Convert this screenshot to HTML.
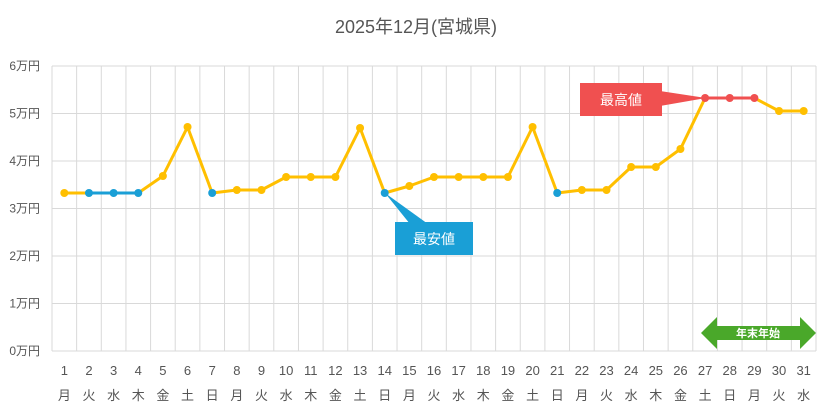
<!DOCTYPE html>
<html><head><meta charset="utf-8"><style>
body{margin:0;background:#fff;width:832px;height:413px;overflow:hidden}
</style></head><body>
<svg width="832" height="413" xmlns="http://www.w3.org/2000/svg" font-family="Liberation Sans, Noto Sans CJK JP, sans-serif">
<rect width="832" height="413" fill="#fff"/>
<text x="416" y="33" text-anchor="middle" font-size="18" fill="#555">2025年12月(宮城県)</text>
<g id="grid" stroke="#d9d9d9" stroke-width="1"></g>
<g id="yl" font-size="12" fill="#555" text-anchor="end"></g>
<g id="xl" font-size="13" fill="#555" text-anchor="middle"></g>
<g id="arrow">
<polygon points="701,333 717,317 717,326 800,326 800,317 816,333 800,349 800,340 717,340 717,349" fill="#4aa82a"/>
<text x="758" y="337" font-size="11" font-weight="bold" fill="#fff" text-anchor="middle">年末年始</text>
</g>
<g id="lines"></g>
<polygon points="660,91 706,98 660,106" fill="#f05050"/>
<rect x="580" y="83" width="82" height="33" fill="#f05050"/>
<text x="621" y="105" font-size="14" fill="#fff" text-anchor="middle">最高値</text>
<polygon points="385,193 428,224 410,224" fill="#1a9fd6"/>
<rect x="395" y="222" width="78" height="33" fill="#1a9fd6"/>
<text x="434" y="244" font-size="14" fill="#fff" text-anchor="middle">最安値</text>
</svg>
<script>
const ns="http://www.w3.org/2000/svg";
function el(t,a,p,txt){const e=document.createElementNS(ns,t);for(const k in a)e.setAttribute(k,a[k]);if(txt!=null)e.textContent=txt;document.getElementById(p).appendChild(e);return e;}
const L=52,R=816,T=66,B=351,w=(R-L)/31;
for(let i=0;i<=6;i++){const y=T+(B-T)*i/6;el('line',{x1:L,x2:R,y1:y,y2:y},'grid');el('text',{x:40,y:y+4},'yl',(6-i)+'万円');}
for(let i=0;i<=31;i++){const x=L+w*i;el('line',{x1:x,x2:x,y1:T,y2:B},'grid');}
const wd=['月','火','水','木','金','土','日'];
const ys=[193,193,193,193,176,127,193,190,190,177,177,177,128,193,186,177,177,177,177,127,193,190,190,167,167,149,98,98,98,111,111];
const col=i=>{const d=i+1;if([2,3,4,7,14,21].includes(d))return'#1a9fd6';if([27,28,29].includes(d))return'#f05050';return'#ffbf00';};
const X=i=>L+w*(i+0.5);
for(let i=0;i<31;i++){el('text',{x:X(i),y:375},'xl',i+1);el('text',{x:X(i),y:400},'xl',wd[i%7]);}
for(let i=0;i<30;i++){let c='#ffbf00';if(i>=1&&i<3)c='#1a9fd6';if(i>=26&&i<28)c='#f05050';el('line',{x1:X(i),y1:ys[i],x2:X(i+1),y2:ys[i+1],stroke:c,'stroke-width':3},'lines');}
for(let i=0;i<31;i++)el('circle',{cx:X(i),cy:ys[i],r:4,fill:col(i)},'lines');
</script>
</body></html>
